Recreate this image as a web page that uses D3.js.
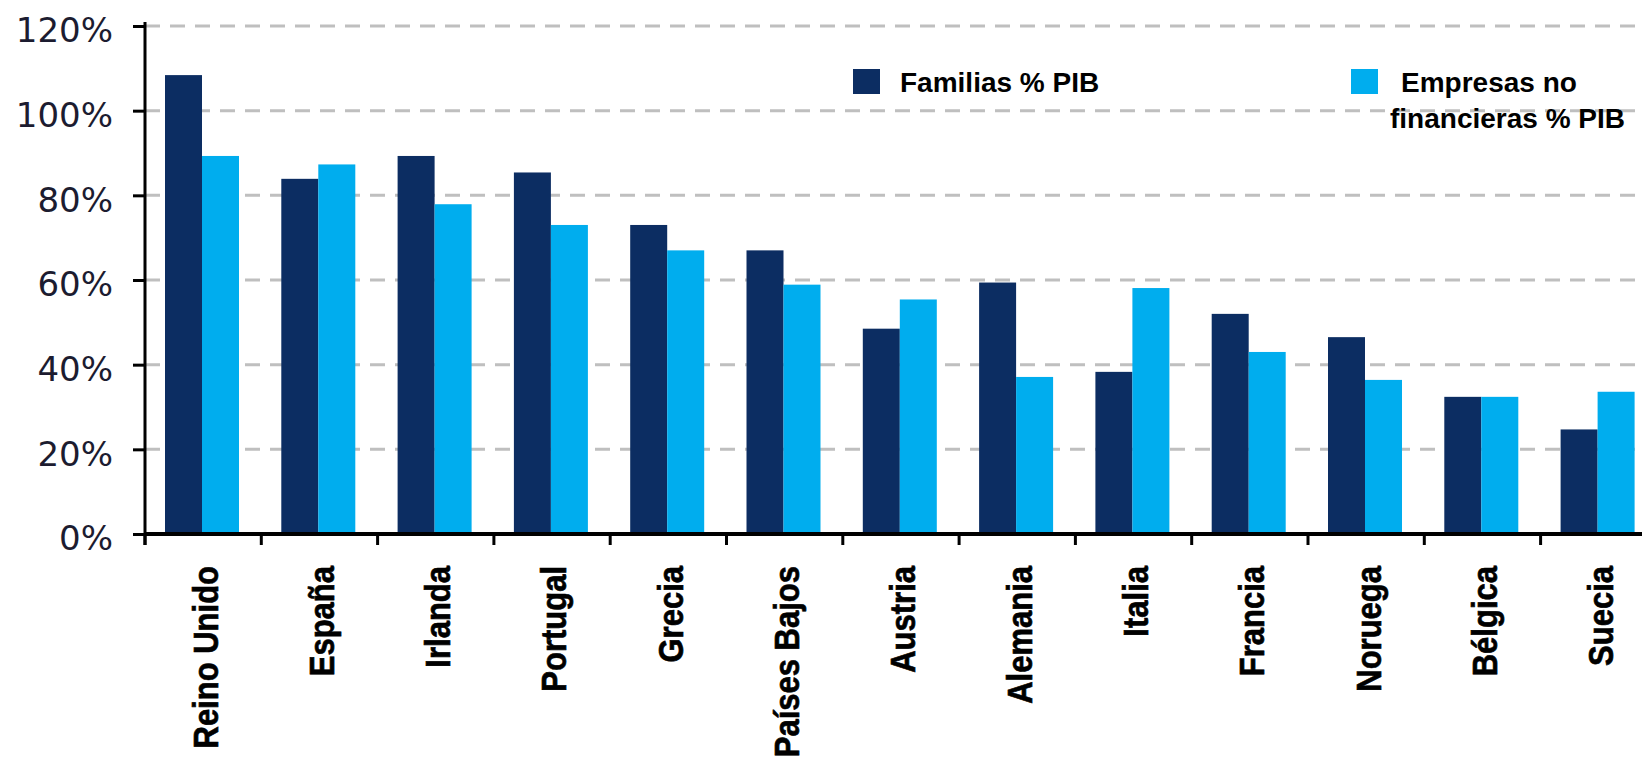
<!DOCTYPE html>
<html lang="es">
<head>
  <meta charset="utf-8">
  <title>Deuda familias y empresas % PIB</title>
  <script src="https://d3js.org/d3.v7.min.js"></script>
  <style>
    body { margin: 0; background: #fff; }
    svg { display: block; }
  </style>
</head>
<body>
<svg width="1642" height="764"></svg>
<script>

// --- data -------------------------------------------------------
var categories = ["Reino Unido", "España", "Irlanda", "Portugal", "Grecia", "Países Bajos",
                  "Austria", "Alemania", "Italia", "Francia", "Noruega", "Bélgica", "Suecia"];
var familias = [108.4, 83.9, 89.3, 85.4, 73.0, 67.0, 48.5, 59.4, 38.3, 52.0, 46.5, 32.4, 24.7];
var empresas = [89.3, 87.3, 77.9, 73.0, 67.0, 58.9, 55.4, 37.1, 58.1, 43.0, 36.4, 32.4, 33.6];
var seriesNames = ["Familias % PIB", "Empresas no financieras % PIB"];
var yTicks = [0, 20, 40, 60, 80, 100, 120];

var colors = ["#0c2d62", "#00adee"];

var svg = d3.select("svg");

// note: "top" is taken by window.top, so plotTop
var left = 145, bottom = 534, plotTop = 26, band = 116.3;

var x0 = d3.scaleBand()
    .domain(categories)
    .range([left, left + band * categories.length]);

var x1 = d3.scaleBand()
    .domain([0, 1])
    .range([20, 94]);

var y = d3.scaleLinear()
    .domain([0, 120])
    .range([bottom, plotTop]);

// gridlines (dashed grey) behind the bars
svg.append("g").selectAll("line")
  .data(yTicks.filter(function(d) { return d > 0; }))
  .enter().append("line")
    .attr("x1", left)
    .attr("x2", 1642)
    .attr("y1", function(d) { return y(d); })
    .attr("y2", function(d) { return y(d); })
    .attr("stroke", "#bfbfbf")
    .attr("stroke-width", 3)
    .attr("stroke-dasharray", "15,10");

// bars
var rows = categories.map(function(c, i) { return { name: c, values: [familias[i], empresas[i]] }; });

var groups = svg.append("g").selectAll("g")
  .data(rows)
  .enter().append("g")
    .attr("transform", function(d) { return "translate(" + x0(d.name) + ",0)"; });

groups.selectAll("rect")
  .data(function(d) { return d.values.map(function(v, k) { return { k: k, v: v }; }); })
  .enter().append("rect")
    .attr("x", function(d) { return x1(d.k); })
    .attr("width", x1.bandwidth())
    .attr("y", function(d) { return y(d.v); })
    .attr("height", function(d) { return bottom - y(d.v); })
    .attr("fill", function(d) { return colors[d.k]; });

// y axis
var yAxis = d3.axisLeft(y)
    .tickValues(yTicks)
    .tickSize(12)
    .tickPadding(20)
    .tickFormat(function(d) { return d + "%"; });

var gy = svg.append("g")
    .attr("transform", "translate(" + left + ",0)")
    .call(yAxis);

gy.select(".domain").remove();
gy.selectAll(".tick line").attr("stroke", "#000").attr("stroke-width", 3);
gy.selectAll(".tick text")
    .attr("dy", "0.47em")
    .attr("fill", "#1c1c30")
    .style("font-family", "'DejaVu Sans', Verdana, sans-serif")
    .style("font-size", "34px");

svg.append("line")
    .attr("x1", left).attr("x2", left)
    .attr("y1", plotTop - 4).attr("y2", bottom + 11)
    .attr("stroke", "#000").attr("stroke-width", 3);

// x axis line + ticks at the band edges
svg.append("line")
    .attr("x1", left).attr("x2", 1642)
    .attr("y1", bottom).attr("y2", bottom)
    .attr("stroke", "#000").attr("stroke-width", 4);

svg.append("g").selectAll("line")
  .data(categories)
  .enter().append("line")
    .attr("x1", function(d) { return x0(d); })
    .attr("x2", function(d) { return x0(d); })
    .attr("y1", bottom)
    .attr("y2", bottom + 11)
    .attr("stroke", "#000")
    .attr("stroke-width", 3);

// rotated category labels (a bit fatter than plain bold, like the original)
svg.append("g").selectAll("text")
  .data(categories)
  .enter().append("text")
    .attr("transform", function(d) { return "translate(" + (x0(d) + 60) + ",566) rotate(-90) scale(1,1.12)"; })
    .attr("text-anchor", "end")
    .attr("dy", "0.36em")
    .style("font-family", "'Liberation Sans', Arial, sans-serif")
    .style("font-weight", "bold")
    .style("font-size", "31px")
    .attr("fill", "#000")
    .attr("stroke", "#000")
    .attr("stroke-width", 0.6)
    .text(function(d) { return d; });

// legend
var legend = svg.append("g")
    .style("font-family", "'Liberation Sans', Arial, sans-serif")
    .style("font-weight", "bold")
    .style("font-size", "28px");

legend.append("rect").attr("x", 853).attr("y", 69).attr("width", 27).attr("height", 25).attr("fill", colors[0]);
legend.append("text").attr("x", 900).attr("y", 92).text(seriesNames[0]);

legend.append("rect").attr("x", 1351).attr("y", 69).attr("width", 27).attr("height", 25).attr("fill", colors[1]);
legend.append("text").attr("x", 1401).attr("y", 92).text("Empresas no");
legend.append("text").attr("x", 1390).attr("y", 128).text("financieras % PIB");

</script>
</body>
</html>
